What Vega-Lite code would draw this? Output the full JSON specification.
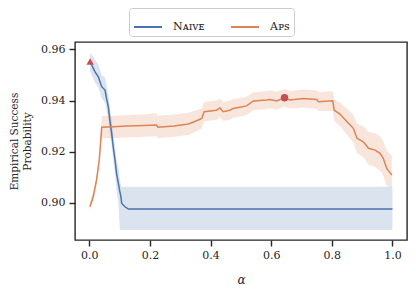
{
  "$schema": "https://vega.github.io/schema/vega-lite/v6.json",
  "width": 332,
  "height": 198,
  "autosize": "none",
  "padding": {"left": 75, "top": 42, "right": 9, "bottom": 49},
  "background": "white",
  "config": {
    "font": "DejaVu Serif",
    "view": {"stroke": "#262626", "strokeWidth": 1.4},
    "axis": {
      "domain": false,
      "grid": false,
      "ticks": true,
      "tickColor": "#262626",
      "tickWidth": 1.4,
      "tickSize": 6,
      "labelFont": "DejaVu Serif",
      "labelFontSize": 11,
      "labelColor": "#262626",
      "titleFont": "DejaVu Serif",
      "titleFontSize": 11,
      "titleFontWeight": "normal",
      "titleColor": "#262626"
    },
    "legend": {
      "labelFont": "DejaVu Serif",
      "labelFontSize": 11,
      "labelColor": "#262626"
    }
  },
  "datasets": {
    "curves": [
      {"series": "Naive", "alpha": 0.003, "value": 0.9550, "lo": 0.9515, "hi": 0.9585},
      {"series": "Naive", "alpha": 0.008, "value": 0.9539, "lo": 0.9500, "hi": 0.9580},
      {"series": "Naive", "alpha": 0.019, "value": 0.9512, "lo": 0.9470, "hi": 0.9560},
      {"series": "Naive", "alpha": 0.030, "value": 0.9493, "lo": 0.9450, "hi": 0.9540},
      {"series": "Naive", "alpha": 0.041, "value": 0.9454, "lo": 0.9410, "hi": 0.9500},
      {"series": "Naive", "alpha": 0.052, "value": 0.9441, "lo": 0.9390, "hi": 0.9490},
      {"series": "Naive", "alpha": 0.057, "value": 0.9408, "lo": 0.9360, "hi": 0.9460},
      {"series": "Naive", "alpha": 0.063, "value": 0.9375, "lo": 0.9330, "hi": 0.9420},
      {"series": "Naive", "alpha": 0.068, "value": 0.9323, "lo": 0.9270, "hi": 0.9370},
      {"series": "Naive", "alpha": 0.074, "value": 0.9271, "lo": 0.9220, "hi": 0.9320},
      {"series": "Naive", "alpha": 0.079, "value": 0.9219, "lo": 0.9170, "hi": 0.9270},
      {"series": "Naive", "alpha": 0.085, "value": 0.9167, "lo": 0.9110, "hi": 0.9220},
      {"series": "Naive", "alpha": 0.090, "value": 0.9115, "lo": 0.9050, "hi": 0.9170},
      {"series": "Naive", "alpha": 0.096, "value": 0.9076, "lo": 0.9000, "hi": 0.9140},
      {"series": "Naive", "alpha": 0.101, "value": 0.9043, "lo": 0.8893, "hi": 0.9090},
      {"series": "Naive", "alpha": 0.105, "value": 0.9020, "lo": 0.8893, "hi": 0.9062},
      {"series": "Naive", "alpha": 0.107, "value": 0.8997, "lo": 0.8893, "hi": 0.9062},
      {"series": "Naive", "alpha": 0.118, "value": 0.8984, "lo": 0.8893, "hi": 0.9062},
      {"series": "Naive", "alpha": 0.129, "value": 0.8975, "lo": 0.8893, "hi": 0.9062},
      {"series": "Naive", "alpha": 1.000, "value": 0.8975, "lo": 0.8893, "hi": 0.9062},
      {"series": "Aps", "alpha": 0.002, "value": 0.8984, "lo": 0.8970, "hi": 0.9000},
      {"series": "Aps", "alpha": 0.013, "value": 0.9023, "lo": 0.9005, "hi": 0.9040},
      {"series": "Aps", "alpha": 0.024, "value": 0.9088, "lo": 0.9070, "hi": 0.9105},
      {"series": "Aps", "alpha": 0.033, "value": 0.9167, "lo": 0.9150, "hi": 0.9185},
      {"series": "Aps", "alpha": 0.038, "value": 0.9245, "lo": 0.9230, "hi": 0.9260},
      {"series": "Aps", "alpha": 0.041, "value": 0.9295, "lo": 0.9252, "hi": 0.9339},
      {"series": "Aps", "alpha": 0.080, "value": 0.9297, "lo": 0.9253, "hi": 0.9340},
      {"series": "Aps", "alpha": 0.123, "value": 0.9300, "lo": 0.9255, "hi": 0.9342},
      {"series": "Aps", "alpha": 0.180, "value": 0.9302, "lo": 0.9258, "hi": 0.9345},
      {"series": "Aps", "alpha": 0.222, "value": 0.9304, "lo": 0.9260, "hi": 0.9350},
      {"series": "Aps", "alpha": 0.226, "value": 0.9295, "lo": 0.9252, "hi": 0.9340},
      {"series": "Aps", "alpha": 0.280, "value": 0.9300, "lo": 0.9258, "hi": 0.9345},
      {"series": "Aps", "alpha": 0.327, "value": 0.9308, "lo": 0.9265, "hi": 0.9352},
      {"series": "Aps", "alpha": 0.354, "value": 0.9321, "lo": 0.9280, "hi": 0.9362},
      {"series": "Aps", "alpha": 0.371, "value": 0.9330, "lo": 0.9290, "hi": 0.9370},
      {"series": "Aps", "alpha": 0.379, "value": 0.9356, "lo": 0.9318, "hi": 0.9395},
      {"series": "Aps", "alpha": 0.420, "value": 0.9362, "lo": 0.9325, "hi": 0.9400},
      {"series": "Aps", "alpha": 0.431, "value": 0.9371, "lo": 0.9335, "hi": 0.9408},
      {"series": "Aps", "alpha": 0.442, "value": 0.9356, "lo": 0.9320, "hi": 0.9393},
      {"series": "Aps", "alpha": 0.464, "value": 0.9362, "lo": 0.9325, "hi": 0.9400},
      {"series": "Aps", "alpha": 0.475, "value": 0.9369, "lo": 0.9332, "hi": 0.9405},
      {"series": "Aps", "alpha": 0.519, "value": 0.9379, "lo": 0.9343, "hi": 0.9415},
      {"series": "Aps", "alpha": 0.541, "value": 0.9398, "lo": 0.9362, "hi": 0.9432},
      {"series": "Aps", "alpha": 0.585, "value": 0.9402, "lo": 0.9367, "hi": 0.9437},
      {"series": "Aps", "alpha": 0.596, "value": 0.9404, "lo": 0.9370, "hi": 0.9440},
      {"series": "Aps", "alpha": 0.618, "value": 0.9398, "lo": 0.9364, "hi": 0.9434},
      {"series": "Aps", "alpha": 0.644, "value": 0.9411, "lo": 0.9377, "hi": 0.9445},
      {"series": "Aps", "alpha": 0.662, "value": 0.9402, "lo": 0.9368, "hi": 0.9437},
      {"series": "Aps", "alpha": 0.706, "value": 0.9408, "lo": 0.9373, "hi": 0.9443},
      {"series": "Aps", "alpha": 0.750, "value": 0.9404, "lo": 0.9368, "hi": 0.9440},
      {"series": "Aps", "alpha": 0.756, "value": 0.9395, "lo": 0.9358, "hi": 0.9432},
      {"series": "Aps", "alpha": 0.803, "value": 0.9399, "lo": 0.9360, "hi": 0.9436},
      {"series": "Aps", "alpha": 0.808, "value": 0.9362, "lo": 0.9320, "hi": 0.9405},
      {"series": "Aps", "alpha": 0.827, "value": 0.9347, "lo": 0.9300, "hi": 0.9392},
      {"series": "Aps", "alpha": 0.850, "value": 0.9317, "lo": 0.9265, "hi": 0.9368},
      {"series": "Aps", "alpha": 0.871, "value": 0.9291, "lo": 0.9235, "hi": 0.9345},
      {"series": "Aps", "alpha": 0.883, "value": 0.9252, "lo": 0.9195, "hi": 0.9310},
      {"series": "Aps", "alpha": 0.904, "value": 0.9238, "lo": 0.9178, "hi": 0.9298},
      {"series": "Aps", "alpha": 0.921, "value": 0.9213, "lo": 0.9150, "hi": 0.9278},
      {"series": "Aps", "alpha": 0.943, "value": 0.9206, "lo": 0.9140, "hi": 0.9272},
      {"series": "Aps", "alpha": 0.959, "value": 0.9193, "lo": 0.9125, "hi": 0.9260},
      {"series": "Aps", "alpha": 0.970, "value": 0.9173, "lo": 0.9105, "hi": 0.9240},
      {"series": "Aps", "alpha": 0.981, "value": 0.9134, "lo": 0.9065, "hi": 0.9203},
      {"series": "Aps", "alpha": 0.998, "value": 0.9108, "lo": 0.9060, "hi": 0.9186}
    ],
    "markers": [
      {"alpha": 0.003, "value": 0.9553, "shape": "triangle-up"},
      {"alpha": 0.644, "value": 0.9411, "shape": "circle"}
    ]
  },
  "layer": [
    {
      "data": {"name": "curves"},
      "mark": {"type": "area", "fillOpacity": 0.2},
      "encoding": {
        "x": {"field": "alpha", "type": "quantitative"},
        "y": {"field": "lo", "type": "quantitative"},
        "y2": {"field": "hi"},
        "color": {"field": "series", "type": "nominal",
          "scale": {"domain": ["Naive", "Aps"], "range": ["#4c72b0", "#dd8452"]}}
      }
    },
    {
      "data": {"name": "curves"},
      "mark": {"type": "line", "strokeWidth": 1.5},
      "encoding": {
        "x": {
          "field": "alpha", "type": "quantitative",
          "scale": {"domain": [-0.047, 1.048], "nice": false, "zero": false},
          "axis": {"values": [0, 0.2, 0.4, 0.6, 0.8, 1.0], "format": ".1f", "labelPadding": 3,
            "title": "α", "titleFontStyle": "italic", "titleFontSize": 12, "titlePadding": 14}
        },
        "y": {
          "field": "value", "type": "quantitative",
          "scale": {"domain": [0.8854, 0.9629], "nice": false, "zero": false},
          "axis": {"values": [0.90, 0.92, 0.94, 0.96], "format": ".2f", "labelPadding": 4,
            "title": ["Empirical Success", "Probability"], "titleFontSize": 10.5, "titlePadding": 8, "titleLineHeight": 13}
        },
        "color": {
          "field": "series", "type": "nominal",
          "scale": {"domain": ["Naive", "Aps"], "range": ["#4c72b0", "#dd8452"]},
          "legend": {
            "title": null, "orient": "none", "legendX": 54, "legendY": -34,
            "direction": "horizontal", "columns": 2, "columnPadding": 22,
            "symbolType": "stroke", "symbolSize": 784, "symbolStrokeWidth": 2,
            "labelOffset": 10, "padding": 4,
            "strokeColor": "#cccccc", "cornerRadius": 3, "fillColor": "white",
            "labelExpr": "datum.label == 'Naive' ? 'Nᴀɪᴠᴇ' : 'Aᴘꜱ'",
            "encode": {"symbols": {"update": {"opacity": {"value": 1}, "strokeOpacity": {"value": 1}}}}
          }
        }
      }
    },
    {
      "data": {"name": "markers"},
      "mark": {"type": "point", "filled": true, "opacity": 1, "color": "#c44e52", "size": 55},
      "encoding": {
        "x": {"field": "alpha", "type": "quantitative"},
        "y": {"field": "value", "type": "quantitative"},
        "shape": {"field": "shape", "type": "nominal", "scale": null, "legend": null}
      }
    }
  ]
}
